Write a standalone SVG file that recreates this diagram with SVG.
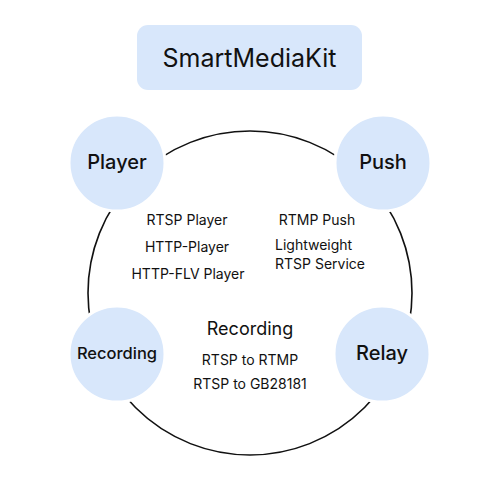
<svg xmlns="http://www.w3.org/2000/svg" width="500" height="500" viewBox="0 0 500 500">
<style>
text{font-family:Inter,"Liberation Sans",sans-serif;fill:#111;text-anchor:middle}
.node{fill:#d8e7fb;stroke:#fff;stroke-width:3}
.nl{font-size:20px;font-weight:500}
.it{font-size:14px}
</style>
<rect width="500" height="500" fill="#fff"/>
<g id="connectors">
<circle cx="250" cy="293" r="162" fill="none" stroke="#111" stroke-width="1.6"/>
</g>
<g id="title">
<rect x="137" y="25" width="225" height="65" rx="11" fill="#d8e7fb"/>
<text x="249.5" y="67" font-size="25">SmartMediaKit</text>
</g>
<g id="player">
<circle class="node" cx="117" cy="163" r="48"/>
<text class="nl" x="117" y="169">Player</text>
</g>
<g id="push">
<circle class="node" cx="383" cy="163" r="48"/>
<text class="nl" x="383" y="169">Push</text>
</g>
<g id="recording">
<circle class="node" cx="117" cy="354" r="48"/>
<text class="nl" x="117" y="359" style="font-size:16.5px">Recording</text>
</g>
<g id="relay">
<circle class="node" cx="382" cy="354" r="48"/>
<text class="nl" x="382" y="360">Relay</text>
</g>
<g id="labels">
<text class="it" x="187" y="225">RTSP Player</text>
<text class="it" x="187" y="252">HTTP-Player</text>
<text class="it" x="188" y="279">HTTP-FLV Player</text>
<text class="it" x="317" y="225">RTMP Push</text>
<text class="it" x="275" y="250" style="text-anchor:start">Lightweight</text>
<text class="it" x="275" y="269" style="text-anchor:start">RTSP Service</text>
<text x="250" y="335" font-size="18">Recording</text>
<text class="it" x="250" y="365">RTSP to RTMP</text>
<text class="it" x="250" y="389">RTSP to GB28181</text>
</g>
</svg>
